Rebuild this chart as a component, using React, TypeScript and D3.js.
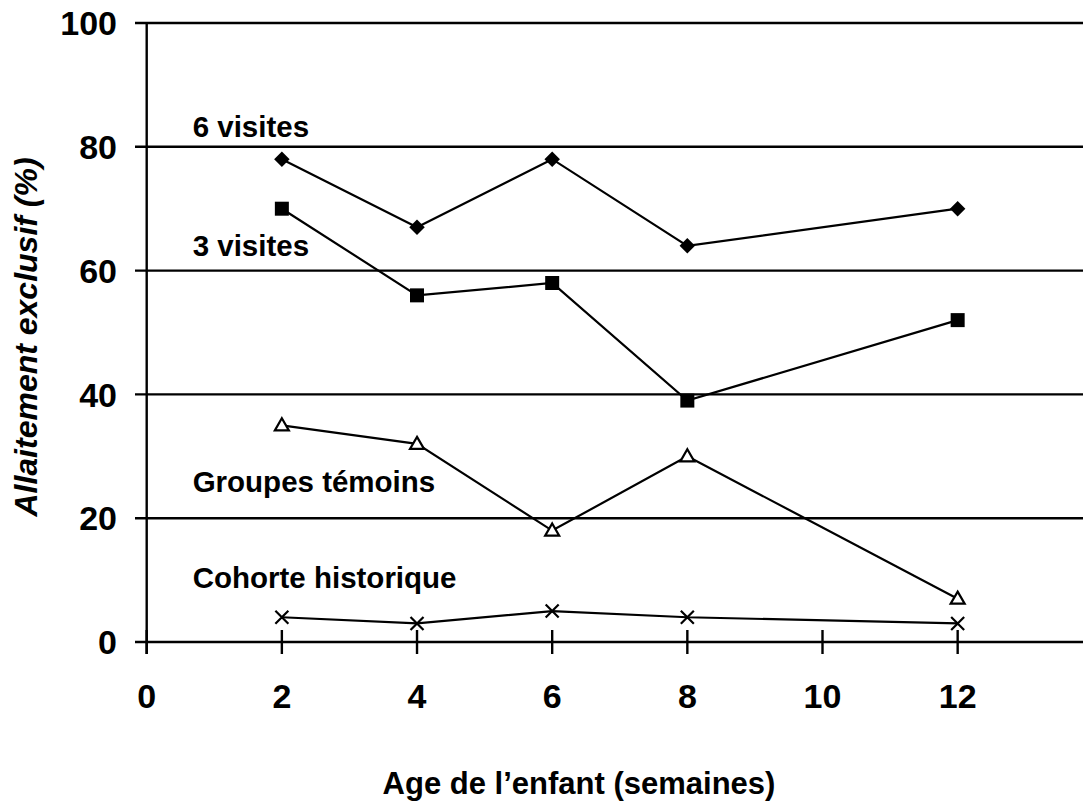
import React from "react";
import * as d3 from "d3";

const weeks = [2, 4, 6, 8, 12];
const sixVisits = [78, 67, 78, 64, 70];
const threeVisits = [70, 56, 58, 39, 52];
const controlGroups = [35, 32, 18, 30, 7];
const historicCohort = [4, 3, 5, 4, 3];

const xTicks = [0, 2, 4, 6, 8, 10, 12];
const yTicks = [0, 20, 40, 60, 80, 100];

const seriesNames = ["6 visites", "3 visites", "Groupes témoins", "Cohorte historique"];
const seriesValues = [sixVisits, threeVisits, controlGroups, historicCohort];
const seriesMarkers = ["diamond", "square", "triangle", "cross"];
// label anchors in data units (x in weeks, y in %)
const labelX = [0.68, 0.68, 0.68, 0.68];
const labelY = [81.6, 62.3, 24.2, 8.8];

const W = 1083;
const H = 801;
const FONT = "'Liberation Sans', Arial, Helvetica, sans-serif";

const x = d3.scaleLinear().domain([0, 14]).range([146.7, 146.7 + 14 * 67.58]);
const y = d3.scaleLinear().domain([0, 100]).range([642, 23]);

function Marker({ type, cx, cy }: { type: string; cx: number; cy: number }) {
  if (type === "diamond") {
    const p = d3.symbol().type(d3.symbolSquare).size(120)();
    return <path d={p || ""} transform={`translate(${cx},${cy}) rotate(45)`} fill="#000" />;
  }
  if (type === "square") {
    const p = d3.symbol().type(d3.symbolSquare).size(196)();
    return <path d={p || ""} transform={`translate(${cx},${cy})`} fill="#000" />;
  }
  if (type === "triangle") {
    const p = d3.symbol().type(d3.symbolTriangle).size(85)();
    return (
      <path d={p || ""} transform={`translate(${cx},${cy + 1})`} fill="#fff" stroke="#000" strokeWidth={2.2} />
    );
  }
  const r = 6.5;
  return (
    <path
      d={`M${-r},${-r}L${r},${r}M${-r},${r}L${r},${-r}`}
      transform={`translate(${cx},${cy})`}
      fill="none"
      stroke="#000"
      strokeWidth={2.2}
    />
  );
}

export default function App() {
  const line = d3
    .line<[number, number]>()
    .x((d) => x(d[0]))
    .y((d) => y(d[1]));

  return (
    <svg
      width={W}
      height={H}
      style={{ position: "absolute", left: 0, top: 0, background: "#fff" }}
      fontFamily={FONT}
    >
      <rect x={0} y={0} width={W} height={H} fill="#fff" />
      {/* horizontal grid lines (incl. x axis at 0) */}
      {yTicks.map((t) => (
        <line key={"g" + t} x1={135} x2={W} y1={y(t)} y2={y(t)} stroke="#000" strokeWidth={2.4} />
      ))}
      {/* y axis */}
      <line x1={x(0)} x2={x(0)} y1={y(100)} y2={y(0) + 12} stroke="#000" strokeWidth={2.4} />
      {/* x ticks */}
      {xTicks.map((t) => (
        <line key={"xt" + t} x1={x(t)} x2={x(t)} y1={y(0) - 12} y2={y(0) + 12} stroke="#000" strokeWidth={2.4} />
      ))}
      {/* y tick labels */}
      {yTicks.map((t) => (
        <text
          key={"yl" + t}
          x={117}
          y={y(t)}
          dy="0.36em"
          textAnchor="end"
          fontSize={34}
          fontWeight="bold"
        >
          {t}
        </text>
      ))}
      {/* x tick labels */}
      {xTicks.map((t) => (
        <text key={"xl" + t} x={x(t)} y={708} textAnchor="middle" fontSize={34} fontWeight="bold">
          {t}
        </text>
      ))}
      {/* axis titles */}
      <text x={579} y={794} textAnchor="middle" fontSize={31} fontWeight="bold">
        Age de l’enfant (semaines)
      </text>
      <text
        transform={`translate(37,337) rotate(-90)`}
        textAnchor="middle"
        fontSize={32}
        fontWeight="bold"
        fontStyle="italic"
      >
        Allaitement exclusif (%)
      </text>
      {/* series */}
      {seriesValues.map((vals, i) => {
        const pts: [number, number][] = weeks.map((w, j) => [w, vals[j]]);
        return (
          <g key={"s" + i}>
            <path d={line(pts) || ""} fill="none" stroke="#000" strokeWidth={2.2} />
            {pts.map((p, j) => (
              <Marker key={j} type={seriesMarkers[i]} cx={x(p[0])} cy={y(p[1])} />
            ))}
            <text x={x(labelX[i])} y={y(labelY[i])} fontSize={29.5} fontWeight="bold">
              {seriesNames[i]}
            </text>
          </g>
        );
      })}
    </svg>
  );
}
